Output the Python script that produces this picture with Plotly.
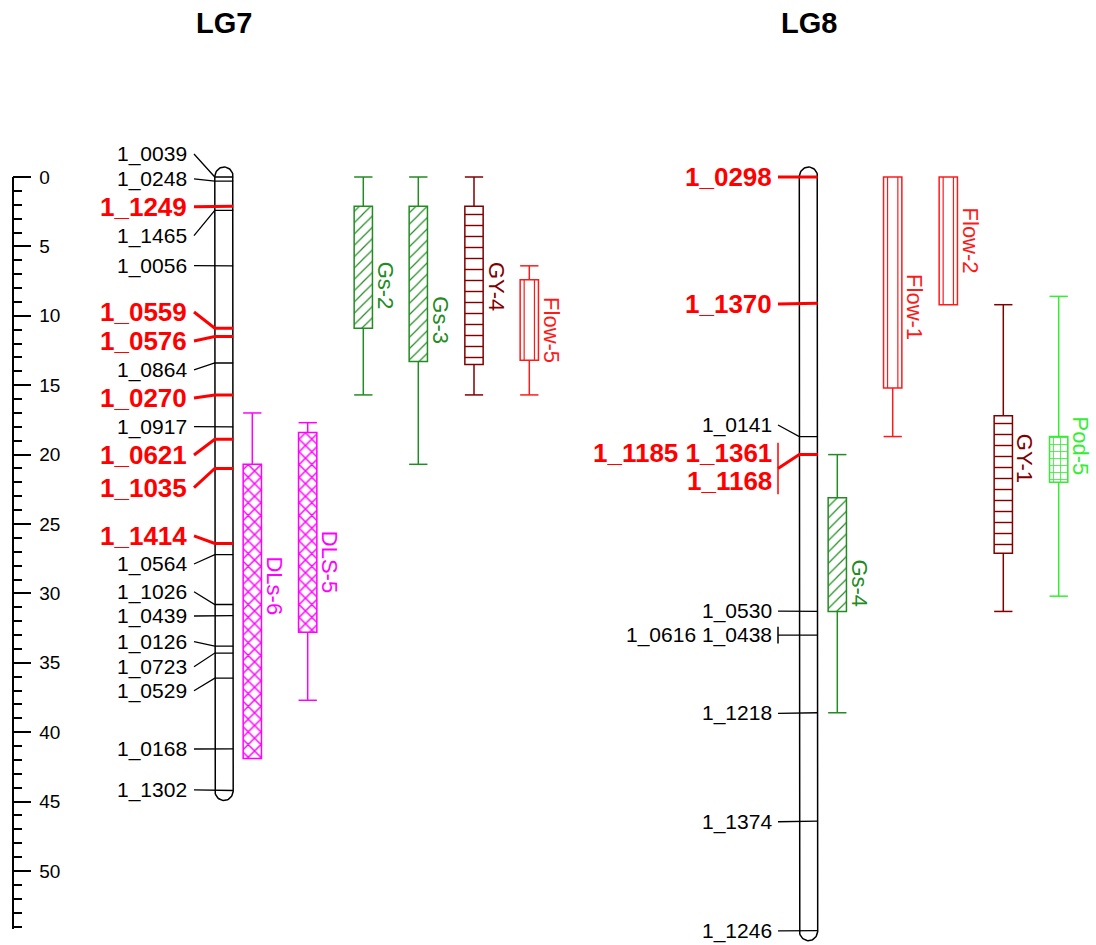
import numpy as np
import plotly.graph_objects as go

# ---------------- data (positions in cM) ----------------
lg7_marker_names = ["1_0039", "1_0248", "1_1249", "1_1465", "1_0056", "1_0559", "1_0576",
                    "1_0864", "1_0270", "1_0917", "1_0621", "1_1035", "1_1414", "1_0564",
                    "1_1026", "1_0439", "1_0126", "1_0723", "1_0529", "1_0168", "1_1302"]
lg7_marker_cm = [0.0, 0.3, 2.1, 2.4, 6.4, 10.9, 11.5, 13.4, 15.7, 18.0, 18.9, 21.0, 26.4, 27.2,
                 30.8, 31.6, 33.8, 34.3, 36.1, 41.2, 44.2]
lg7_marker_sig = [0, 0, 1, 0, 0, 1, 1, 0, 1, 0, 1, 1, 1, 0, 0, 0, 0, 0, 0, 0, 0]

lg8_marker_names = ["1_0298", "1_1370", "1_0141", "1_1185", "1_1361", "1_1168", "1_0530",
                    "1_0616", "1_0438", "1_1218", "1_1374", "1_1246"]
lg8_marker_cm = [0.0, 9.1, 18.7, 20.0, 20.0, 20.0, 31.3, 33.0, 33.0, 38.6, 46.4, 54.3]
lg8_marker_sig = [1, 1, 0, 1, 1, 1, 0, 0, 0, 0, 0, 0]

lg7_qtl_names = ["DLs-6", "DLS-5", "Gs-2", "Gs-3", "GY-4", "Flow-5"]
lg7_qtl_trait = ["DLs", "DLs", "Gs", "Gs", "GY", "Flow"]
lg7_qtl_ci_start = [17.0, 17.7, 0.0, 0.0, 0.0, 6.4]
lg7_qtl_ci_end = [41.9, 37.7, 15.7, 20.7, 15.7, 15.7]
lg7_qtl_box_start = [20.7, 18.4, 2.1, 2.1, 2.1, 7.4]
lg7_qtl_box_end = [41.9, 32.8, 10.9, 13.3, 13.5, 13.2]

lg8_qtl_names = ["Gs-4", "Flow-1", "Flow-2", "GY-1", "Pod-5"]
lg8_qtl_trait = ["Gs", "Flow", "Flow", "GY", "Pod"]
lg8_qtl_ci_start = [20.0, 0.0, 0.0, 9.2, 8.6]
lg8_qtl_ci_end = [38.6, 18.7, 9.2, 31.3, 30.2]
lg8_qtl_box_start = [23.1, 0.0, 0.0, 17.2, 18.7]
lg8_qtl_box_end = [31.3, 15.2, 9.2, 27.1, 22.0]

ruler_ticks_major = 5
ruler_max_cm = 54.2

# ---------------- layout / style ----------------
W, H = 1096, 945
Y0_PX = 177.0          # pixel row of 0 cM
PX_PER_CM = 13.88
FONT = "Liberation Sans, Arial, sans-serif"
RED = "#FF0000"

LG7_X, LG8_X = 224.0, 808.5
CHROM_HW = 9.2
CAP_PX = 10.0
LG7_LABEL_RIGHT, LG7_CONN_X = 189.0, 194.0
LG8_LABEL_RIGHT, LG8_CONN_X = 773.5, 778.0
LG7_LABEL_CM = [-1.66, 0.14, 2.14, 4.23, 6.39, 9.73, 11.82, 13.9, 15.92, 17.99, 20.03,
                22.38, 25.86, 27.88, 29.88, 31.63, 33.48, 35.28, 37.01, 41.21, 44.16]
LG8_LABEL_CM = [0.0, 9.15, 17.87, 19.9, 31.27, 33.0, 38.64, 46.45, 54.32]
LG7_QTL_X = [252.3, 307.7, 363.3, 418.3, 474.0, 529.3]
LG8_QTL_X = [837.3, 892.7, 948.3, 1003.3, 1058.7]
QTL_W = 18.3
QTL_LABEL_DX = 22.0
FS_BLACK, FS_RED, FS_QTL, FS_TITLE = 21, 26, 22, 29

TRAIT_STYLE = {
    "Gs": dict(color="#228B22", shape="/", size=8, sol=0.15),
    "GY": dict(color="#800000", shape="-", size=11, sol=0.13),
    "Flow": dict(color="#FF1A1A", shape="", size=8, sol=0.2),
    "DLs": dict(color="#FF00FF", shape="x", size=9, sol=0.3),
    "Pod": dict(color="#33EE33", shape="+", size=7, sol=0.22),
}

cm = lambda px: px / PX_PER_CM
fig = go.Figure()
annotations = []


def add_line(xs, ys, color, width, yaxis="y"):
    fig.add_trace(go.Scatter(x=xs, y=ys, mode="lines", line=dict(color=color, width=width),
                             yaxis=yaxis, hoverinfo="skip", showlegend=False))


def draw_chromosome(xc, start, end):
    t = np.linspace(0, np.pi, 30)
    cap = cm(CAP_PX)
    bx = xc - CHROM_HW * np.cos(t)
    by = end + cap * np.sin(t)
    tx = xc + CHROM_HW * np.cos(t)
    ty = start - cap * np.sin(t)
    xs = np.concatenate([[xc - CHROM_HW], bx, tx, [xc - CHROM_HW]])
    ys = np.concatenate([[start], by, ty, [start]])
    add_line(xs.tolist(), ys.tolist(), "black", 1.5)


def draw_markers(xc, names, pos, sig, label_cm, label_right, conn_x):
    groups = []
    for n, p, s in zip(names, pos, sig):
        if groups and groups[-1]["pos"] == p:
            groups[-1]["names"].append(n)
        else:
            groups.append(dict(pos=p, names=[n], sig=s))
    xl, xr = xc - CHROM_HW, xc + CHROM_HW
    seg = {0: ([], []), 1: ([], [])}
    for g, lc in zip(groups, label_cm):
        s = g["sig"]
        fs = FS_RED if s else FS_BLACK
        color = RED if s else "black"
        lines = [" ".join(g["names"][i:i + 2]) for i in range(0, len(g["names"]), 2)]
        step = cm(1.08 * fs)
        for j, txt in enumerate(lines):
            annotations.append(dict(
                x=label_right, y=lc + j * step, xref="x", yref="y",
                text=f"<b>{txt}</b>" if s else txt, showarrow=False,
                xanchor="right", yanchor="middle",
                font=dict(family=FONT, size=fs, color=color)))
        start_y = lc
        if len(g["names"]) > 1:
            top = lc - cm(0.4 * fs)
            last = lc + (len(lines) - 1) * step
            bot = last + cm((0.5 if len(lines) > 1 else 0.4) * fs)
            add_line([conn_x, conn_x], [top, bot], color, 1.5)
            start_y = (top + bot) / 2
        xs, ys = seg[s]
        xs += [conn_x, xl, xr, None]
        ys += [start_y, g["pos"], g["pos"], None]
    add_line(seg[0][0], seg[0][1], "black", 1.3)
    add_line(seg[1][0], seg[1][1], RED, 3)


def draw_qtls(xs, names, traits, ci_s, ci_e, bx_s, bx_e):
    for x, n, tr, cs, ce, bs, be in zip(xs, names, traits, ci_s, ci_e, bx_s, bx_e):
        st = TRAIT_STYLE[tr]
        c = st["color"]
        half = QTL_W / 2
        wx, wy = [], []
        if cs < bs:
            wx += [x, x, None, x - half, x + half, None]
            wy += [cs, bs, None, cs, cs, None]
        if ce > be:
            wx += [x, x, None, x - half, x + half, None]
            wy += [be, ce, None, ce, ce, None]
        if wx:
            add_line(wx, wy, c, 1.5)
        pattern = dict(shape=st["shape"], fgcolor=c, bgcolor="white", size=st["size"],
                       solidity=st["sol"], fillmode="replace")
        fig.add_trace(go.Bar(x=[x], y=[be - bs], base=[bs], width=[QTL_W],
                             marker=dict(color="white", line=dict(color=c, width=1.5),
                                         pattern=pattern),
                             hoverinfo="skip", showlegend=False))
        if tr == "Flow":
            ix = [x - half + 4, x - half + 4, None, x + half - 4, x + half - 4]
            iy = [bs, be, None, bs, be]
            add_line(ix, iy, c, 1.2)
        annotations.append(dict(
            x=x + QTL_LABEL_DX, y=(cs + ce) / 2, xref="x", yref="y", text=n,
            showarrow=False, textangle=90, xanchor="center", yanchor="middle",
            font=dict(family=FONT, size=FS_QTL, color=c)))


# LG7
draw_chromosome(LG7_X, min(lg7_marker_cm), max(lg7_marker_cm))
draw_markers(LG7_X, lg7_marker_names, lg7_marker_cm, lg7_marker_sig, LG7_LABEL_CM,
             LG7_LABEL_RIGHT, LG7_CONN_X)
draw_qtls(LG7_QTL_X, lg7_qtl_names, lg7_qtl_trait, lg7_qtl_ci_start, lg7_qtl_ci_end,
          lg7_qtl_box_start, lg7_qtl_box_end)
# LG8
draw_chromosome(LG8_X, min(lg8_marker_cm), max(lg8_marker_cm))
draw_markers(LG8_X, lg8_marker_names, lg8_marker_cm, lg8_marker_sig, LG8_LABEL_CM,
             LG8_LABEL_RIGHT, LG8_CONN_X)
draw_qtls(LG8_QTL_X, lg8_qtl_names, lg8_qtl_trait, lg8_qtl_ci_start, lg8_qtl_ci_end,
          lg8_qtl_box_start, lg8_qtl_box_end)

# titles
for name, xc in (("LG7", LG7_X), ("LG8", LG8_X)):
    annotations.append(dict(x=xc, y=1 - 23 / H, xref="x", yref="paper", text=f"<b>{name}</b>",
                            showarrow=False, xanchor="center", yanchor="middle",
                            font=dict(family=FONT, size=FS_TITLE, color="black")))

# ruler axis (y2) carrying an invisible trace
fig.add_trace(go.Scatter(x=[0], y=[0], yaxis="y2", mode="markers", marker=dict(opacity=0),
                         hoverinfo="skip", showlegend=False))

y_top = -Y0_PX / PX_PER_CM
y_bot = (H - Y0_PX) / PX_PER_CM
ruler_top = 1 - Y0_PX / H
ruler_bot = 1 - (Y0_PX + ruler_max_cm * PX_PER_CM) / H

fig.update_layout(
    template="none",
    width=W, height=H, margin=dict(l=0, r=0, t=0, b=0, pad=0, autoexpand=False),
    paper_bgcolor="white", plot_bgcolor="rgba(0,0,0,0)", barmode="overlay", showlegend=False,
    xaxis=dict(range=[0, W], visible=False, fixedrange=True, automargin=False),
    yaxis=dict(range=[y_bot, y_top], visible=False, fixedrange=True, automargin=False),
    yaxis2=dict(range=[ruler_max_cm, 0], domain=[ruler_bot, ruler_top], anchor="free",
                position=12.7 / W, side="right", showline=True, linecolor="black",
                linewidth=1.5, ticks="outside", ticklen=18, tickwidth=1.5, tickcolor="black",
                tick0=0, dtick=ruler_ticks_major, showgrid=False, zeroline=False,
                automargin=False, fixedrange=True, ticklabelstandoff=4,
                tickfont=dict(family=FONT, size=19, color="black"),
                minor=dict(dtick=1, ticks="outside", ticklen=9, tickwidth=1.5,
                           tickcolor="black", showgrid=False)),
    annotations=annotations,
)

fig.write_html("out.html", config={"displayModeBar": False})
